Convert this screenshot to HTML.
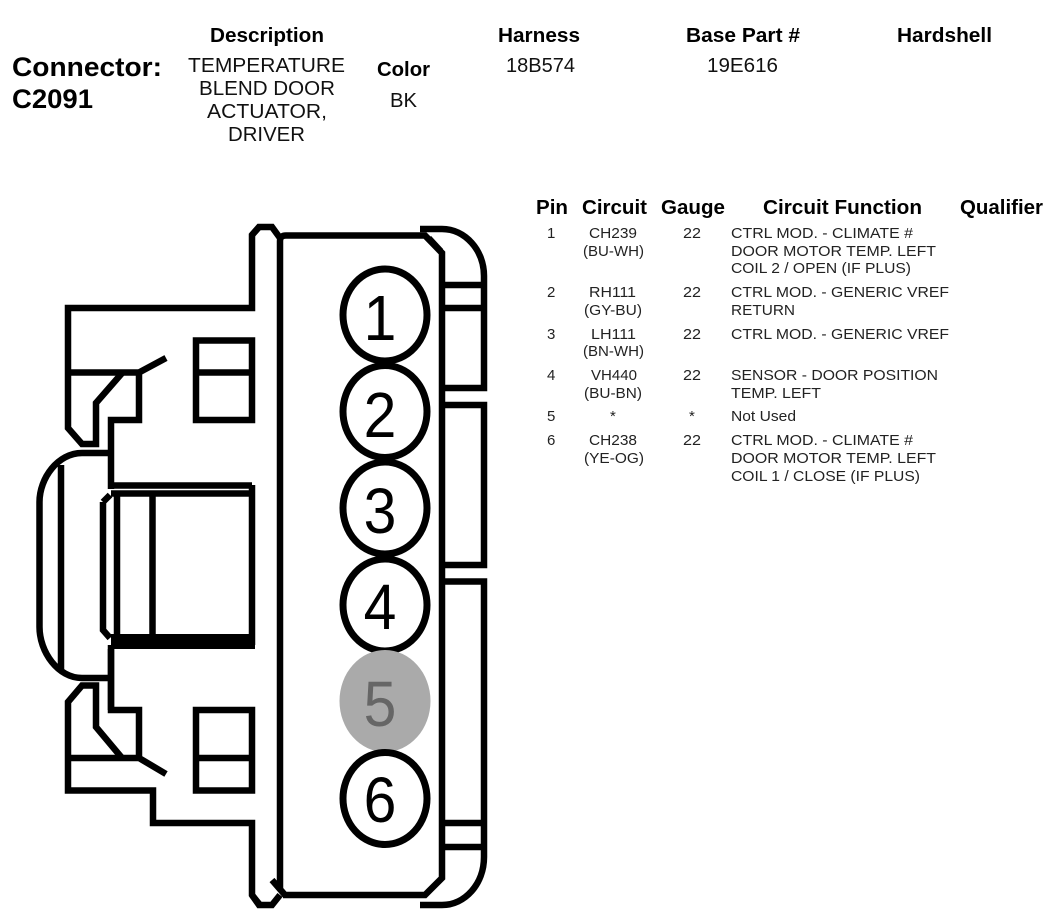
<!DOCTYPE html>
<html><head><meta charset="utf-8"><style>
html,body{margin:0;padding:0;background:#fff}
svg{display:block}
text{font-family:"Liberation Sans",sans-serif;fill:#000}
.h{font-weight:bold;font-size:20px}
.r{font-size:20px;fill:#111}
.s{font-size:15px;fill:#222}
.d{font-size:64px;text-anchor:middle}
.l{fill:none;stroke:#000;stroke-width:6.5;stroke-linejoin:miter}
</style></head><body>
<svg width="1060" height="924" viewBox="0 0 1060 924" xmlns="http://www.w3.org/2000/svg">
<rect width="1060" height="924" fill="#fff"/>
<text x="12" y="76" style="font-size:27px;font-weight:bold" textLength="150" lengthAdjust="spacingAndGlyphs">Connector:</text>
<text x="12" y="108" style="font-size:27px;font-weight:bold" textLength="81" lengthAdjust="spacingAndGlyphs">C2091</text>
<text class="h" x="210" y="42" textLength="114" lengthAdjust="spacingAndGlyphs">Description</text>
<text class="r" x="188" y="72" textLength="157" lengthAdjust="spacingAndGlyphs">TEMPERATURE</text>
<text class="r" x="199" y="95" textLength="136" lengthAdjust="spacingAndGlyphs">BLEND DOOR</text>
<text class="r" x="207" y="118" textLength="120" lengthAdjust="spacingAndGlyphs">ACTUATOR,</text>
<text class="r" x="228" y="141" textLength="77" lengthAdjust="spacingAndGlyphs">DRIVER</text>
<text class="h" x="377" y="76" textLength="53" lengthAdjust="spacingAndGlyphs">Color</text>
<text class="r" x="390" y="107" textLength="27" lengthAdjust="spacingAndGlyphs">BK</text>
<text class="h" x="498" y="42" textLength="82" lengthAdjust="spacingAndGlyphs">Harness</text>
<text class="r" x="506" y="72" textLength="69" lengthAdjust="spacingAndGlyphs">18B574</text>
<text class="h" x="686" y="42" textLength="114" lengthAdjust="spacingAndGlyphs">Base Part #</text>
<text class="r" x="707" y="72" textLength="71" lengthAdjust="spacingAndGlyphs">19E616</text>
<text class="h" x="897" y="42" textLength="95" lengthAdjust="spacingAndGlyphs">Hardshell</text>

<text class="h" x="536" y="214" textLength="32" lengthAdjust="spacingAndGlyphs">Pin</text>
<text class="h" x="582" y="214" textLength="65" lengthAdjust="spacingAndGlyphs">Circuit</text>
<text class="h" x="661" y="214" textLength="64" lengthAdjust="spacingAndGlyphs">Gauge</text>
<text class="h" x="763" y="214" textLength="159" lengthAdjust="spacingAndGlyphs">Circuit Function</text>
<text class="h" x="960" y="214" textLength="83" lengthAdjust="spacingAndGlyphs">Qualifier</text>

<text class="s" x="547" y="238">1</text><text class="s" x="589" y="238" textLength="48" lengthAdjust="spacingAndGlyphs">CH239</text><text class="s" x="683" y="238" textLength="18" lengthAdjust="spacingAndGlyphs">22</text>
<text class="s" x="731" y="238" textLength="182" lengthAdjust="spacingAndGlyphs">CTRL MOD. - CLIMATE #</text>
<text class="s" x="583" y="256" textLength="61" lengthAdjust="spacingAndGlyphs">(BU-WH)</text>
<text class="s" x="731" y="256" textLength="205" lengthAdjust="spacingAndGlyphs">DOOR MOTOR TEMP. LEFT</text>
<text class="s" x="731" y="273" textLength="180" lengthAdjust="spacingAndGlyphs">COIL 2 / OPEN (IF PLUS)</text>

<text class="s" x="547" y="297">2</text><text class="s" x="589" y="297" textLength="47" lengthAdjust="spacingAndGlyphs">RH111</text><text class="s" x="683" y="297" textLength="18" lengthAdjust="spacingAndGlyphs">22</text>
<text class="s" x="731" y="297" textLength="218" lengthAdjust="spacingAndGlyphs">CTRL MOD. - GENERIC VREF</text>
<text class="s" x="584" y="315" textLength="58" lengthAdjust="spacingAndGlyphs">(GY-BU)</text>
<text class="s" x="731" y="315" textLength="64" lengthAdjust="spacingAndGlyphs">RETURN</text>

<text class="s" x="547" y="339">3</text><text class="s" x="591" y="339" textLength="45" lengthAdjust="spacingAndGlyphs">LH111</text><text class="s" x="683" y="339" textLength="18" lengthAdjust="spacingAndGlyphs">22</text>
<text class="s" x="731" y="339" textLength="218" lengthAdjust="spacingAndGlyphs">CTRL MOD. - GENERIC VREF</text>
<text class="s" x="583" y="356" textLength="61" lengthAdjust="spacingAndGlyphs">(BN-WH)</text>

<text class="s" x="547" y="380">4</text><text class="s" x="591" y="380" textLength="46" lengthAdjust="spacingAndGlyphs">VH440</text><text class="s" x="683" y="380" textLength="18" lengthAdjust="spacingAndGlyphs">22</text>
<text class="s" x="731" y="380" textLength="207" lengthAdjust="spacingAndGlyphs">SENSOR - DOOR POSITION</text>
<text class="s" x="584" y="398" textLength="58" lengthAdjust="spacingAndGlyphs">(BU-BN)</text>
<text class="s" x="731" y="398" textLength="90" lengthAdjust="spacingAndGlyphs">TEMP. LEFT</text>

<text class="s" x="547" y="421">5</text><text class="s" x="610" y="421">*</text><text class="s" x="689" y="421">*</text>
<text class="s" x="731" y="421" textLength="65" lengthAdjust="spacingAndGlyphs">Not Used</text>

<text class="s" x="547" y="445">6</text><text class="s" x="589" y="445" textLength="48" lengthAdjust="spacingAndGlyphs">CH238</text><text class="s" x="683" y="445" textLength="18" lengthAdjust="spacingAndGlyphs">22</text>
<text class="s" x="731" y="445" textLength="182" lengthAdjust="spacingAndGlyphs">CTRL MOD. - CLIMATE #</text>
<text class="s" x="584" y="463" textLength="60" lengthAdjust="spacingAndGlyphs">(YE-OG)</text>
<text class="s" x="731" y="463" textLength="205" lengthAdjust="spacingAndGlyphs">DOOR MOTOR TEMP. LEFT</text>
<text class="s" x="731" y="481" textLength="189" lengthAdjust="spacingAndGlyphs">COIL 1 / CLOSE (IF PLUS)</text>

<g class="l">
<path class="l" d="M260 905 L252 895 V823 H153 V790.5 H68 V702 L82 685.5 H96 V727 L122 758"/>
<path class="l" d="M260 226 L252 235 V308 H68 V428 L82 444 H96 V403 L123 372"/>
<path class="l" d="M68 372.5 H139 L166 358 M139 372.5 V420 H111 V489 M68 758 H139 L166 774 M139 758 V710 H111 V649"/>
<path class="l" d="M196 340.5 H252 V420 H196 Z M196 372.5 H252 M196 710 H252 V790.5 H196 Z M196 758 H252"/>
<path class="l" d="M111 485.5 H252 M111 493.5 H252 M252 485 V645"/>
<rect x="111" y="634" width="144" height="15" fill="#000" stroke="none"/>
<path class="l" d="M111 453 H82 C58 453 39.5 478 39.5 502 V627 C39.5 652 58 678 82 678 H111 M61 465 V670 M103 502 V630 L110 638 M103 502 L110 495 M117 493 V636 M152.500 493 V636 M111 645 V710"/>
<path class="l" d="M252 235 L259 227 H272 L280 238 M252 895 L259 905 H272 L280 895"/>
<path class="l" d="M280 241 Q280 235.500 286 235.500 H425 L442 253 V878 L425 895 H283 M280 241 V890 M272 880 L285 895"/>
<path class="l" d="M420 229 H442 C465 229 484 250 484 276 V388 H442 M442 285 H484 M442 308 H484 M442 405 H484 V565 H442 M442 581.500 H484 V857 C484 884 465 905 442 905 H420 M442 823 H484 M442 847 H484"/>
<path d="M430 237 L442 250 M430 890 L442 876" stroke="#000" stroke-width="3" fill="none"/>
</g>

<ellipse cx="385" cy="315" rx="42" ry="46" fill="#fff" stroke="#000" stroke-width="7"/>
<ellipse cx="385" cy="411.500" rx="42" ry="46" fill="#fff" stroke="#000" stroke-width="7"/>
<ellipse cx="385" cy="508" rx="42" ry="46" fill="#fff" stroke="#000" stroke-width="7"/>
<ellipse cx="385" cy="605" rx="42" ry="46" fill="#fff" stroke="#000" stroke-width="7"/>
<ellipse cx="385" cy="701" rx="45.500" ry="51" fill="#aaa"/>
<ellipse cx="385" cy="798.500" rx="42" ry="46" fill="#fff" stroke="#000" stroke-width="7"/>
<text class="d" transform="translate(380,340) scale(.92,1)">1</text>
<text class="d" transform="translate(380,437) scale(.92,1)">2</text>
<text class="d" transform="translate(380,533) scale(.92,1)">3</text>
<text class="d" transform="translate(380,629) scale(.92,1)">4</text>
<text class="d" transform="translate(380,726) scale(.92,1)" style="fill:#666">5</text>
<text class="d" transform="translate(380,822) scale(.92,1)">6</text>
</svg>
</body></html>
